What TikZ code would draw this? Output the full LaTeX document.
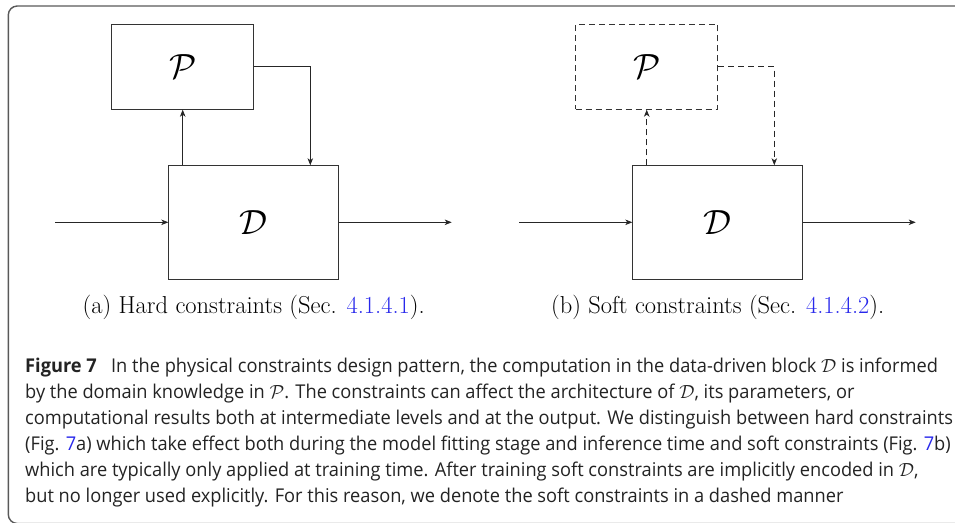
\documentclass[tikz,border=0pt]{standalone}
\usepackage{fix-cm}
\usepackage{fontspec}
\usetikzlibrary{arrows.meta}
\newfontfamily\capfont[FakeStretch=0.96]{Open Sans}
\definecolor{linkblue}{RGB}{40,40,235}
\definecolor{capgray}{RGB}{35,35,35}

\begin{document}
\begin{tikzpicture}[x=1pt,y=-1pt,>={Stealth[length=7pt,width=5.5pt,inset=2pt]},
    blk/.style={draw=black!80, line width=0.8pt, font=\fontsize{35}{40}\selectfont},
    pblk/.style={blk, minimum width=142pt, minimum height=85pt},
    dblk/.style={blk, minimum width=170pt, minimum height=113.3pt},
    wire/.style={draw=black!85, line width=0.8pt},
    soft/.style={dash pattern=on 6pt off 4pt},
    sub/.style={anchor=base, font=\fontsize{24.5}{29}\selectfont}]
                    \useasboundingbox (0,0) rectangle (955,522);
                    % frame of the figure, only its left and top sides are in view
                    \begin{scope}
                      \clip (0,0) rectangle (955,522);
                      \draw[black!65, line width=1.4pt, rounded corners=9pt] (8.3,6) rectangle (980,523.5);
                    \end{scope}
                    % (a) hard constraints
                    \node[pblk] (pa) at (182.7,66.8) {$\mathcal{P}$};
                    \node[dblk] (da) at (253.7,222.3) {$\mathcal{D}$};
                    \coordinate (ina) at (55,222.3);
                    \coordinate (outa) at (451.7,222.3);
                    \draw[wire,->] (ina) -- (da.west);
                    \draw[wire,->] (da.east) -- (outa);
                    \draw[wire,->] (da.north -| pa.south) -- (pa.south);
                    \draw[wire,->] (pa.east) -| ([xshift=56.6pt]da.north);
                    \node[sub] (capa) at (253.7,313.3) {(a) Hard constraints (Sec. {\color{linkblue}4.1.4.1}).};
                    % (b) soft constraints, P and its links dashed
                    \node[pblk, soft] (pb) at (646.7,66.8) {$\mathcal{P}$};
                    \node[dblk] (db) at (717.7,222.3) {$\mathcal{D}$};
                    \coordinate (inb) at (519.3,222.3);
                    \coordinate (outb) at (915.7,222.3);
                    \draw[wire,->] (inb) -- (db.west);
                    \draw[wire,->] (db.east) -- (outb);
                    \draw[wire,soft,->] (db.north -| pb.south) -- (pb.south);
                    \draw[wire,soft,->] (pb.east) -| ([xshift=56.6pt]db.north);
                    \node[sub] (capb) at (717.7,313.3) {(b) Soft constraints (Sec. {\color{linkblue}4.1.4.2}).};
                    % caption text
                    \node[anchor=north west, inner sep=0pt, align=left, text=capgray,
                          font=\capfont\fontsize{19}{26}\selectfont] (cap) at (25,358)
                      {\textbf{Figure 7}\hspace{0.5em} In the physical constraints design pattern, the computation in the data-driven block $\mathcal{D}$ is informed\\
                       by the domain knowledge in $\mathcal{P}$. The constraints can affect the architecture of $\mathcal{D}$, its parameters, or\\
                       computational results both at intermediate levels and at the output. We distinguish between hard constraints\\
                       (Fig. {\color{linkblue}7}a) which take effect both during the model fitting stage and inference time and soft constraints (Fig. {\color{linkblue}7}b)\\
                       which are typically only applied at training time. After training soft constraints are implicitly encoded in $\mathcal{D}$,\\
                       but no longer used explicitly. For this reason, we denote the soft constraints in a dashed manner};
                \end{tikzpicture}
\end{document}
